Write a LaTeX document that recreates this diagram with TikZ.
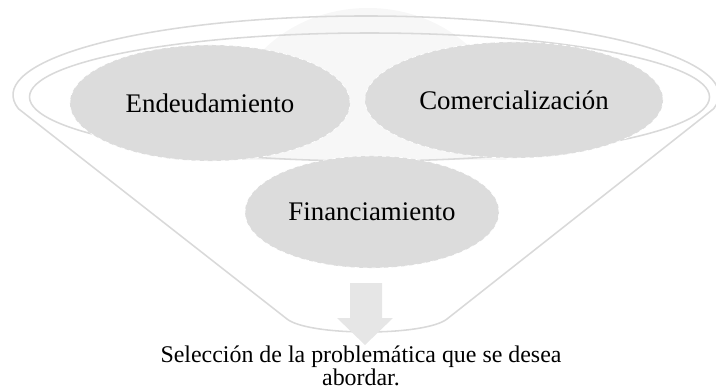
\documentclass[tikz,border=0pt]{standalone}
\usepackage{fontspec}
\setmainfont{Liberation Serif}
\usetikzlibrary{shapes.geometric}
\definecolor{rimgray}{RGB}{217,217,217}
\definecolor{topicgray}{RGB}{220,220,220}
\definecolor{arrowgray}{RGB}{230,230,230}
\definecolor{hazegray}{RGB}{247,247,247}
\begin{document}
\begin{tikzpicture}[x=0.025cm,y=0.025cm,
  rim/.style={draw=rimgray, line width=1.1pt},
  topic/.style={ellipse, fill=topicgray, draw=white, dashed, line width=0.5pt,
    inner sep=0pt, font=\fontsize{19.1}{23}\selectfont}]
\useasboundingbox (0,0) rectangle (716,389);
% faint disc behind the rim
\begin{scope}
  \clip (0,229) rectangle (716,389);
  \fill[hazegray] (368,254) ellipse (141 and 127);
\end{scope}
% funnel
\draw[rim] (18.4,280.3) arc (190:-10:353 and 79) -- (447,70)
  .. controls (437,62) and (405,57) .. (367,57)
  .. controls (329,57) and (297,62) .. (287,70) -- cycle;
\draw[rim] (369.5,292) ellipse (340 and 64);
% topics
\node[topic, minimum width=7cm, minimum height=2.9cm] (debt) at (210,286) {Endeudamiento};
\node[topic, minimum width=7.45cm, minimum height=2.9cm] (trade) at (514,289) {Comercialización};
\node[topic, minimum width=6.35cm, minimum height=2.8cm] (funding) at (372,177) {Financiamiento};
% arrow down
\fill[arrowgray] (350,106) -- (382,106) -- (382,71) -- (393,71) -- (365,44)
  -- (337,71) -- (350,71) -- cycle;
\node[align=center, inner sep=0pt, font=\fontsize{17}{15}\selectfont] (goal) at (361,23)
  {Selección de la problemática que se desea\\abordar.};
\end{tikzpicture}
\end{document}
